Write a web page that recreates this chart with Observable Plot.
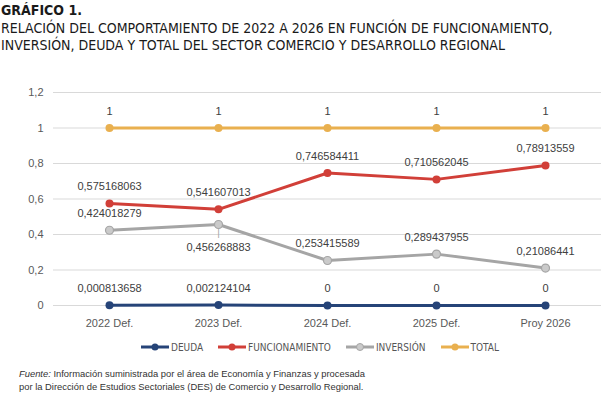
<!DOCTYPE html>
<html>
<head>
<meta charset="utf-8">
<script src="https://cdn.jsdelivr.net/npm/d3@7"></script>
<script src="https://cdn.jsdelivr.net/npm/@observablehq/plot@0.6"></script>
<style>
  body { margin: 0; background: #fff; width: 601px; overflow: hidden; }
  #title { font-family: "DejaVu Sans Condensed", "Liberation Sans", sans-serif; font-size: 14px; line-height: 17.5px; color: #1a1a1a; padding: 2px 0 0 1px; height: 61px; box-sizing: border-box; }
  #title b { font-weight: bold; }
  #legend { font-family: "DejaVu Sans Condensed", "Liberation Sans", sans-serif; font-size: 10px; color: #555; display: flex; justify-content: center; gap: 14px; height: 28px; align-items: center; margin-left: 38px; padding-top: 2px; box-sizing: border-box; }
  #legend span.item { display: flex; align-items: center; }
  #legend svg { margin-right: 1px; }
  #foot { font-family: "Liberation Sans", Arial, sans-serif; font-size: 9.4px; line-height: 12.5px; color: #333; padding-left: 19px; margin-top: 8px; }
</style>
</head>
<body>
<div id="title"><b>GRÁFICO 1.</b><br>RELACIÓN DEL COMPORTAMIENTO DE 2022 A 2026 EN FUNCIÓN DE FUNCIONAMIENTO,<br>INVERSIÓN, DEUDA Y TOTAL DEL SECTOR COMERCIO Y DESARROLLO REGIONAL</div>
<div id="chart"></div>
<div id="legend"></div>
<div id="foot"><i>Fuente:</i> Información suministrada por el área de Economía y Finanzas y procesada<br>por la Dirección de Estudios Sectoriales (DES) de Comercio y Desarrollo Regional.</div>
<script>
const categories = ["2022 Def.", "2023 Def.", "2024 Def.", "2025 Def.", "Proy 2026"];
const seriesNames = ["DEUDA", "FUNCIONAMIENTO", "INVERSIÓN", "TOTAL"];
const deuda = [0.000813658, 0.002124104, 0, 0, 0];
const funcionamiento = [0.575168063, 0.541607013, 0.746584411, 0.710562045, 0.78913559];
const inversion = [0.424018279, 0.456268883, 0.253415589, 0.289437955, 0.21086441];
const total = [1, 1, 1, 1, 1];
const yTicks = [0, 0.2, 0.4, 0.6, 0.8, 1, 1.2];

const colors = {
  "DEUDA": "#264478",
  "FUNCIONAMIENTO": "#d13f38",
  "INVERSIÓN": "#a5a5a5",
  "TOTAL": "#e9b04f"
};
const dotFill = {
  "DEUDA": "#264478",
  "FUNCIONAMIENTO": "#d13f38",
  "INVERSIÓN": "#cacaca",
  "TOTAL": "#e9b04f"
};
// label placed below the point (to avoid overlap)
const labelsBelow = [["INVERSIÓN", "2023 Def."]];

const valuesBySeries = [deuda, funcionamiento, inversion, total];
const data = [];
seriesNames.forEach((s, i) => {
  categories.forEach((c, j) => {
    data.push({series: s, cat: c, value: valuesBySeries[i][j], label: String(valuesBySeries[i][j]).replace(".", ",")});
  });
});
const isBelow = d => labelsBelow.some(([s, c]) => s === d.series && c === d.cat);

const marks = [
  Plot.gridY(yTicks, {stroke: "#d9d9d9", strokeOpacity: 1, strokeWidth: 1}),
  Plot.axisY(yTicks, {tickSize: 0, tickPadding: 10, tickFormat: d => String(d).replace(".", ","), fill: "#595959", fontSize: 11, label: null}),
  Plot.axisX({tickSize: 0, tickPadding: 14, fill: "#595959", fontSize: 11, label: null})
];
// leader line for the label placed below
marks.push(Plot.text(data.filter(isBelow), {x: "cat", y: "value", text: () => "|", dy: 8, fill: "#a5a5a5", fontSize: 10, lineAnchor: "middle"}));
seriesNames.forEach(s => {
  const sd = data.filter(d => d.series === s);
  marks.push(Plot.line(sd, {x: "cat", y: "value", stroke: colors[s], strokeWidth: 3}));
  marks.push(Plot.dot(sd, {x: "cat", y: "value", r: 4, fill: dotFill[s], stroke: colors[s], strokeWidth: s === "INVERSIÓN" ? 1.2 : 0}));
});
marks.push(Plot.text(data.filter(d => !isBelow(d)), {x: "cat", y: "value", text: "label", dy: -17, fill: "#404040", fontSize: 11, lineAnchor: "middle"}));
marks.push(Plot.text(data.filter(isBelow), {x: "cat", y: "value", text: "label", dy: 23, fill: "#404040", fontSize: 11, lineAnchor: "middle"}));

const chart = Plot.plot({
  width: 601,
  height: 271,
  marginLeft: 53,
  marginRight: 0,
  marginTop: 31,
  marginBottom: 27,
  style: {fontFamily: "'Liberation Sans', Arial, sans-serif", fontSize: "11px", background: "#fff"},
  x: {type: "point", domain: categories, padding: 0.5},
  y: {domain: [0, 1.2]},
  marks
});
document.getElementById("chart").appendChild(chart);

const legend = document.getElementById("legend");
seriesNames.forEach(s => {
  const item = document.createElement("span");
  item.className = "item";
  item.innerHTML = `<svg width="30" height="10"><line x1="1" y1="5" x2="29" y2="5" stroke="${colors[s]}" stroke-width="3"/><circle cx="15" cy="5" r="3.5" fill="${dotFill[s]}" stroke="${colors[s]}" stroke-width="${s === "INVERSIÓN" ? 1 : 0}"/></svg>${s}`;
  legend.appendChild(item);
});
</script>
</body>
</html>
